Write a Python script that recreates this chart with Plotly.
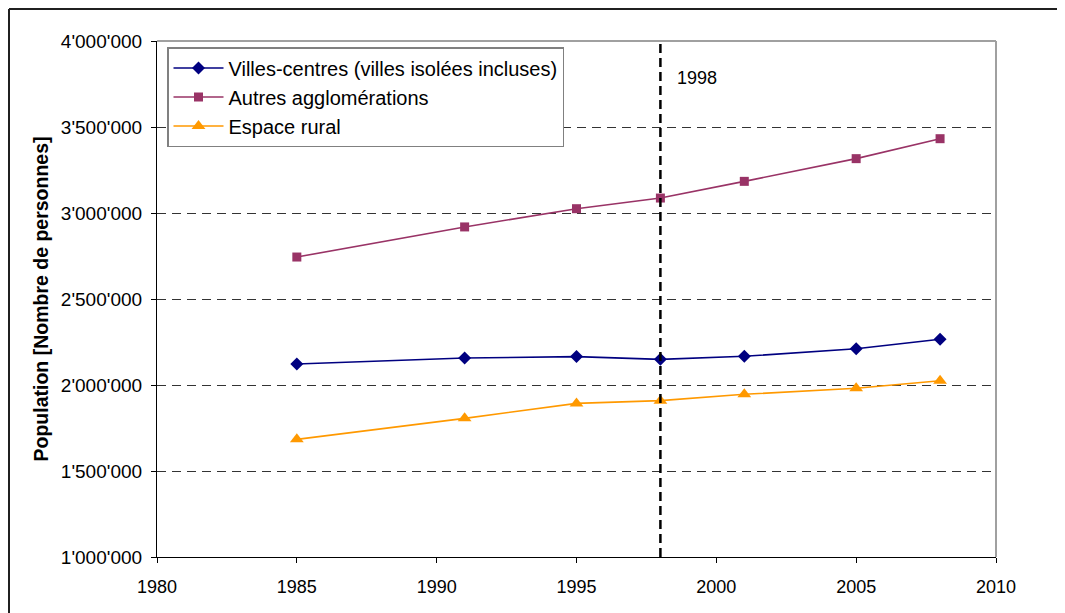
import plotly.graph_objects as go

years = [1985, 1991, 1995, 1998, 2001, 2005, 2008]
villes_centres = [2122000, 2157000, 2165000, 2149000, 2167000, 2211000, 2266000]
autres_agglo = [2744000, 2919000, 3025000, 3087000, 3184000, 3316000, 3432000]
espace_rural = [1684000, 1806000, 1893000, 1909000, 1946000, 1981000, 2025000]

series_names = ["Villes-centres (villes isolées incluses)", "Autres agglomérations", "Espace rural"]
y_tickvals = [1000000, 1500000, 2000000, 2500000, 3000000, 3500000, 4000000]
y_ticktext = ["1'000'000", "1'500'000", "2'000'000", "2'500'000", "3'000'000", "3'500'000", "4'000'000"]
x_tickvals = [1980, 1985, 1990, 1995, 2000, 2005, 2010]
marker_year = 1998

# page has an 8px body margin; figure sized to fit the 1065x613 window
W, H = 1057, 605
L, R, T, B = 149, 69, 33, 56
PW, PH = W - L - R, H - T - B

FONT = "Liberation Sans, Arial, sans-serif"

fig = go.Figure()
fig.add_trace(go.Scatter(x=years, y=villes_centres, name=series_names[0], mode="lines+markers",
                         line=dict(color="#000080", width=1.6),
                         marker=dict(symbol="diamond", size=10, color="#000080")))
fig.add_trace(go.Scatter(x=years, y=autres_agglo, name=series_names[1], mode="lines+markers",
                         line=dict(color="#993366", width=1.6),
                         marker=dict(symbol="square", size=9, color="#993366")))
fig.add_trace(go.Scatter(x=years, y=espace_rural, name=series_names[2], mode="lines+markers",
                         line=dict(color="#FF9900", width=1.6),
                         marker=dict(symbol="triangle-up", size=12, color="#FF9900")))

fig.update_layout(
    width=W, height=H,
    margin=dict(l=L, r=R, t=T, b=B, autoexpand=False),
    paper_bgcolor="white", plot_bgcolor="white",
    font=dict(family=FONT, size=18, color="black"),
    showlegend=True,
    legend=dict(x=10 / PW, y=1 - 6 / PH, xanchor="left", yanchor="top",
                bgcolor="white", bordercolor="#808080", borderwidth=1.5,
                font=dict(family=FONT, size=20, color="black"),
                itemwidth=50, tracegroupgap=0),
    xaxis=dict(range=[1980, 2010], tickvals=x_tickvals, ticktext=[str(v) for v in x_tickvals],
               showgrid=False, zeroline=False, showline=True, linecolor="black", linewidth=1.2,
               ticks="outside", ticklen=5, tickcolor="black", tickwidth=1.2,
               ticklabelstandoff=8,
               tickfont=dict(family=FONT, size=18)),
    yaxis=dict(range=[1000000, 4000000], tickvals=y_tickvals, ticktext=y_ticktext,
               showgrid=True, gridcolor="#333333", gridwidth=1, griddash="9px,6px",
               zeroline=False, showline=True, linecolor="black", linewidth=1.2,
               ticks="outside", ticklen=5, tickcolor="black", tickwidth=1.2,
               ticklabelstandoff=5,
               tickfont=dict(family=FONT, size=19),
               title=dict(text="<b>Population [Nombre de personnes]</b>",
                          font=dict(family=FONT, size=19.5), standoff=7)),
)

# top and right frame of plot area (gray)
fig.add_shape(type="line", xref="paper", yref="paper", x0=0, x1=1, y0=1, y1=1,
              line=dict(color="#A0A0A0", width=2))
fig.add_shape(type="line", xref="paper", yref="paper", x0=1, x1=1, y0=0, y1=1,
              line=dict(color="#A0A0A0", width=2))
# vertical 1998 line
fig.add_shape(type="line", xref="x", yref="paper", x0=marker_year, x1=marker_year, y0=0, y1=1,
              line=dict(color="black", width=2.5, dash="9px,5px"))
fig.add_annotation(x=marker_year, xref="x", y=3785000, yref="y", text=str(marker_year),
                   showarrow=False, xanchor="left", xshift=15,
                   font=dict(family=FONT, size=18, color="black"))
# outer chart border (left and top visible)
fig.add_shape(type="line", xref="paper", yref="paper",
              x0=(1 - L) / PW, x1=(1 - L) / PW, y0=1 + (T - 1) / PH, y1=-0.2,
              line=dict(color="#202020", width=2))
fig.add_shape(type="line", xref="paper", yref="paper",
              x0=(1 - L) / PW, x1=1.2, y0=1 + (T - 1) / PH, y1=1 + (T - 1) / PH,
              line=dict(color="#202020", width=2))

fig.write_html("out.html")
